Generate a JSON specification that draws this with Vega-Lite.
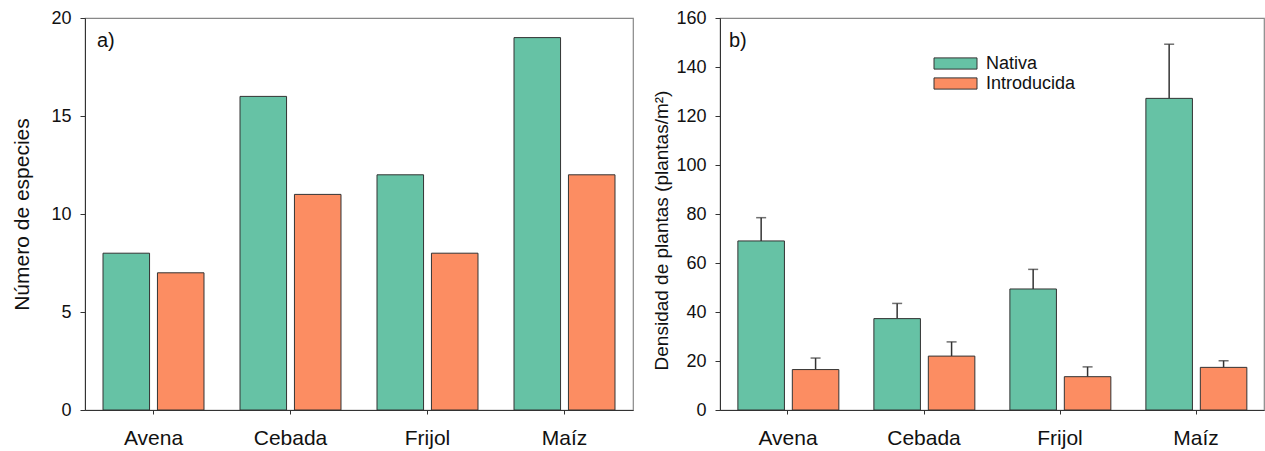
{
  "$schema": "https://vega.github.io/schema/vega-lite/v6.json",
  "background": "white",
  "padding": {"left": 11, "top": 8, "right": 1, "bottom": 2},
  "spacing": 18,
  "config": {
    "font": "Liberation Sans",
    "view": {"stroke": "#888", "strokeWidth": 1.2},
    "axis": {"grid": false, "domainColor": "#333", "tickColor": "#333", "labelColor": "#111", "titleColor": "#111", "labelFontSize": 18, "titleFontSize": 21, "titleFontWeight": "normal", "tickSize": 5, "labelPadding": 9},
    "axisX": {"labelFontSize": 21, "labelAngle": 0, "tickSize": 4, "labelPadding": 13},
    "title": {"fontSize": 20, "fontWeight": "normal", "anchor": "start", "frame": "group", "color": "#111"}
  },
  "resolve": {"scale": {"color": "independent"}, "legend": {"color": "independent"}},
  "hconcat": [
    {
      "width": 548,
      "height": 392,
      "title": {"text": "a)", "dx": 12, "dy": 46},
      "data": {"values": [
        {"cultivo": "Avena", "tipo": "Nativa", "especies": 8},
        {"cultivo": "Avena", "tipo": "Introducida", "especies": 7},
        {"cultivo": "Cebada", "tipo": "Nativa", "especies": 16},
        {"cultivo": "Cebada", "tipo": "Introducida", "especies": 11},
        {"cultivo": "Frijol", "tipo": "Nativa", "especies": 12},
        {"cultivo": "Frijol", "tipo": "Introducida", "especies": 8},
        {"cultivo": "Maíz", "tipo": "Nativa", "especies": 19},
        {"cultivo": "Maíz", "tipo": "Introducida", "especies": 12}
      ]},
      "mark": {"type": "bar", "stroke": "#333", "strokeWidth": 1},
      "encoding": {
        "x": {"field": "cultivo", "type": "nominal", "sort": ["Avena", "Cebada", "Frijol", "Maíz"], "scale": {"paddingInner": 0.263, "paddingOuter": 0.1315}, "axis": {"title": null}},
        "xOffset": {"field": "tipo", "type": "nominal", "sort": ["Nativa", "Introducida"], "scale": {"paddingInner": 0.145, "paddingOuter": 0}},
        "y": {"field": "especies", "type": "quantitative", "scale": {"domain": [0, 20]}, "axis": {"values": [0, 5, 10, 15, 20], "title": "Número de especies", "titlePadding": 18}},
        "color": {"field": "tipo", "type": "nominal", "scale": {"domain": ["Nativa", "Introducida"], "range": ["#66c2a5", "#fc8d62"]}, "legend": null}
      }
    },
    {
      "width": 544,
      "height": 392,
      "title": {"text": "b)", "dx": 9, "dy": 46},
      "data": {"values": [
        {"cultivo": "Avena", "tipo": "Nativa", "densidad": 69, "sup": 78.5},
        {"cultivo": "Avena", "tipo": "Introducida", "densidad": 16.5, "sup": 21.2},
        {"cultivo": "Cebada", "tipo": "Nativa", "densidad": 37.3, "sup": 43.5},
        {"cultivo": "Cebada", "tipo": "Introducida", "densidad": 22, "sup": 27.8},
        {"cultivo": "Frijol", "tipo": "Nativa", "densidad": 49.4, "sup": 57.4},
        {"cultivo": "Frijol", "tipo": "Introducida", "densidad": 13.6, "sup": 17.6},
        {"cultivo": "Maíz", "tipo": "Nativa", "densidad": 127.2, "sup": 149.3},
        {"cultivo": "Maíz", "tipo": "Introducida", "densidad": 17.4, "sup": 20.1}
      ]},
      "encoding": {
        "x": {"field": "cultivo", "type": "nominal", "sort": ["Avena", "Cebada", "Frijol", "Maíz"], "scale": {"paddingInner": 0.263, "paddingOuter": 0.1315}, "axis": {"title": null}},
        "xOffset": {"field": "tipo", "type": "nominal", "sort": ["Nativa", "Introducida"], "scale": {"paddingInner": 0.145, "paddingOuter": 0}}
      },
      "layer": [
        {
          "mark": {"type": "rule", "color": "#333", "strokeWidth": 1.5},
          "encoding": {
            "y": {"field": "densidad", "type": "quantitative"},
            "y2": {"field": "sup"}
          }
        },
        {
          "mark": {"type": "tick", "color": "#333", "thickness": 1.5, "size": 10, "orient": "horizontal"},
          "encoding": {
            "y": {"field": "sup", "type": "quantitative"}
          }
        },
        {
          "mark": {"type": "bar", "stroke": "#333", "strokeWidth": 1},
          "encoding": {
            "y": {"field": "densidad", "type": "quantitative", "scale": {"domain": [0, 160]}, "axis": {"values": [0, 20, 40, 60, 80, 100, 120, 140, 160], "title": "Densidad de plantas (plantas/m²)", "titlePadding": 4, "titleFontSize": 19, "titleY": 212}},
            "color": {"field": "tipo", "type": "nominal", "scale": {"domain": ["Nativa", "Introducida"], "range": ["#66c2a5", "#fc8d62"]},
              "legend": {"orient": "none", "legendX": 225, "legendY": 35, "title": null, "labelFontSize": 18, "labelColor": "#111", "symbolType": "M-2.15,-0.56L2.15,-0.56L2.15,0.56L-2.15,0.56Z", "symbolSize": 400, "symbolStrokeColor": "#333", "symbolStrokeWidth": 1, "symbolOpacity": 1, "labelOffset": 20, "rowPadding": 0}}
          }
        }
      ]
    }
  ]
}
